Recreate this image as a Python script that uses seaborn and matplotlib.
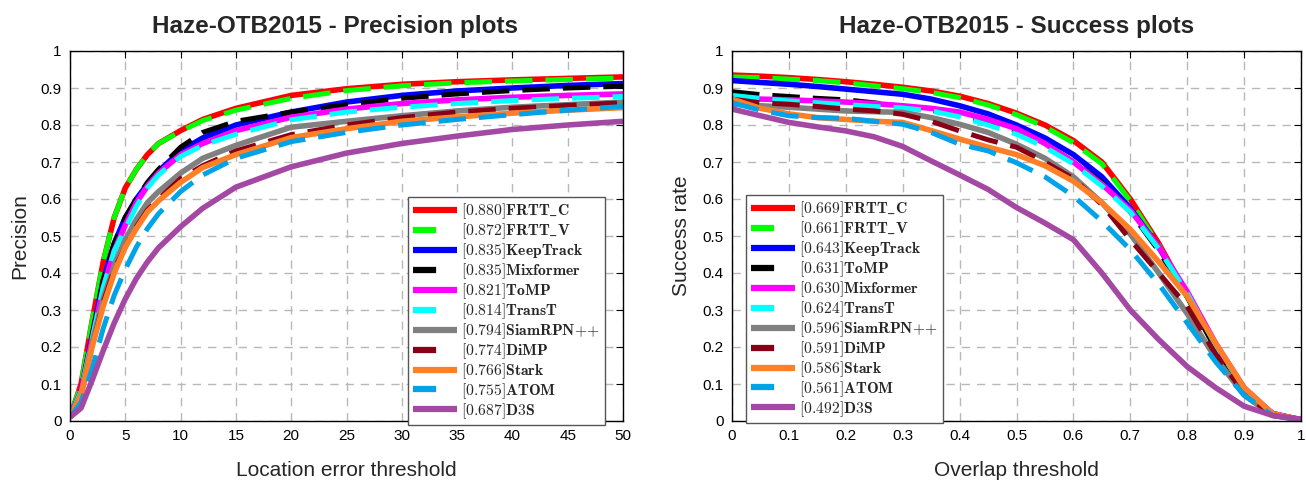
import numpy as np
import pandas as pd
import matplotlib
matplotlib.use('Agg')
import matplotlib.pyplot as plt
from matplotlib.lines import Line2D
import seaborn as sns

# ---- data -------------------------------------------------------------
prec_x = [0, 1, 2, 3, 4, 5, 6, 7, 8, 10, 12, 15, 20, 25, 30, 35, 40, 45, 50]

prec_names = ['FRTT_C', 'FRTT_V', 'KeepTrack', 'Mixformer', 'ToMP', 'TransT',
              'SiamRPN++', 'DiMP', 'Stark', 'ATOM', 'D3S']
prec_scores = [0.880, 0.872, 0.835, 0.835, 0.821, 0.814, 0.794, 0.774, 0.766, 0.755, 0.687]

prec_frtt_c = [0.01, 0.10, 0.27, 0.43, 0.55, 0.63, 0.68, 0.72, 0.75, 0.785, 0.815, 0.845, 0.880, 0.898, 0.910, 0.917, 0.922, 0.926, 0.930]
prec_frtt_v = [0.01, 0.10, 0.27, 0.43, 0.55, 0.63, 0.68, 0.72, 0.75, 0.783, 0.812, 0.840, 0.872, 0.893, 0.906, 0.914, 0.919, 0.923, 0.927]
prec_keeptrack = [0.01, 0.08, 0.23, 0.38, 0.48, 0.55, 0.60, 0.64, 0.675, 0.730, 0.765, 0.800, 0.835, 0.862, 0.880, 0.892, 0.900, 0.907, 0.912]
prec_mixformer = [0.01, 0.08, 0.23, 0.38, 0.48, 0.55, 0.60, 0.645, 0.68, 0.740, 0.780, 0.810, 0.835, 0.855, 0.872, 0.884, 0.893, 0.900, 0.905]
prec_tomp = [0.01, 0.08, 0.22, 0.36, 0.46, 0.53, 0.59, 0.635, 0.67, 0.720, 0.750, 0.785, 0.821, 0.843, 0.858, 0.868, 0.875, 0.880, 0.884]
prec_transt = [0.01, 0.08, 0.22, 0.36, 0.46, 0.52, 0.58, 0.63, 0.665, 0.715, 0.745, 0.775, 0.814, 0.835, 0.848, 0.858, 0.866, 0.872, 0.877]
prec_siamrpn = [0.01, 0.07, 0.21, 0.33, 0.42, 0.49, 0.545, 0.59, 0.62, 0.670, 0.710, 0.745, 0.794, 0.810, 0.825, 0.838, 0.848, 0.855, 0.862]
prec_dimp = [0.01, 0.07, 0.20, 0.32, 0.41, 0.47, 0.525, 0.57, 0.60, 0.655, 0.690, 0.730, 0.774, 0.800, 0.820, 0.835, 0.845, 0.853, 0.860]
prec_stark = [0.01, 0.07, 0.20, 0.31, 0.40, 0.47, 0.52, 0.565, 0.595, 0.645, 0.685, 0.720, 0.766, 0.790, 0.810, 0.822, 0.832, 0.840, 0.847]
prec_atom = [0.01, 0.05, 0.14, 0.25, 0.34, 0.41, 0.47, 0.52, 0.56, 0.620, 0.665, 0.710, 0.755, 0.780, 0.800, 0.815, 0.828, 0.840, 0.850]
prec_d3s = [0.01, 0.035, 0.11, 0.19, 0.265, 0.33, 0.385, 0.43, 0.468, 0.525, 0.575, 0.632, 0.687, 0.724, 0.750, 0.770, 0.788, 0.800, 0.810]

succ_x = [0, 0.05, 0.1, 0.15, 0.2, 0.25, 0.3, 0.35, 0.4, 0.45, 0.5, 0.55, 0.6, 0.65, 0.7, 0.75, 0.8, 0.85, 0.9, 0.95, 1.0]

succ_names = ['FRTT_C', 'FRTT_V', 'KeepTrack', 'ToMP', 'Mixformer', 'TransT',
              'SiamRPN++', 'DiMP', 'Stark', 'ATOM', 'D3S']
succ_scores = [0.669, 0.661, 0.643, 0.631, 0.630, 0.624, 0.596, 0.591, 0.586, 0.561, 0.492]

succ_frtt_c = [0.935, 0.932, 0.928, 0.923, 0.917, 0.910, 0.902, 0.892, 0.878, 0.858, 0.832, 0.800, 0.758, 0.700, 0.600, 0.480, 0.340, 0.200, 0.085, 0.020, 0.003]
succ_frtt_v = [0.930, 0.928, 0.924, 0.920, 0.914, 0.906, 0.898, 0.888, 0.874, 0.854, 0.828, 0.795, 0.752, 0.695, 0.595, 0.475, 0.335, 0.195, 0.083, 0.020, 0.003]
succ_keeptrack = [0.920, 0.915, 0.910, 0.904, 0.897, 0.890, 0.883, 0.870, 0.852, 0.830, 0.800, 0.765, 0.720, 0.660, 0.575, 0.470, 0.340, 0.200, 0.085, 0.020, 0.003]
succ_tomp = [0.890, 0.882, 0.877, 0.872, 0.868, 0.860, 0.850, 0.840, 0.826, 0.810, 0.785, 0.750, 0.700, 0.645, 0.565, 0.460, 0.335, 0.195, 0.082, 0.020, 0.003]
succ_mixformer = [0.870, 0.870, 0.868, 0.865, 0.862, 0.858, 0.852, 0.845, 0.835, 0.815, 0.790, 0.750, 0.700, 0.640, 0.570, 0.470, 0.350, 0.210, 0.090, 0.020, 0.003]
succ_transt = [0.880, 0.872, 0.865, 0.860, 0.855, 0.850, 0.846, 0.838, 0.822, 0.800, 0.775, 0.740, 0.695, 0.635, 0.565, 0.465, 0.345, 0.205, 0.088, 0.020, 0.003]
succ_siamrpn = [0.856, 0.852, 0.848, 0.843, 0.838, 0.836, 0.834, 0.820, 0.802, 0.780, 0.748, 0.710, 0.660, 0.590, 0.505, 0.400, 0.290, 0.170, 0.070, 0.015, 0.003]
succ_dimp = [0.870, 0.860, 0.856, 0.850, 0.843, 0.838, 0.829, 0.810, 0.784, 0.760, 0.740, 0.700, 0.655, 0.585, 0.490, 0.400, 0.310, 0.180, 0.075, 0.015, 0.003]
succ_stark = [0.870, 0.845, 0.830, 0.820, 0.815, 0.810, 0.807, 0.785, 0.762, 0.740, 0.720, 0.690, 0.648, 0.590, 0.518, 0.430, 0.337, 0.210, 0.090, 0.020, 0.003]
succ_atom = [0.860, 0.840, 0.825, 0.820, 0.818, 0.810, 0.802, 0.780, 0.748, 0.730, 0.698, 0.660, 0.608, 0.540, 0.463, 0.370, 0.265, 0.160, 0.070, 0.015, 0.003]
succ_d3s = [0.843, 0.825, 0.807, 0.795, 0.784, 0.768, 0.742, 0.703, 0.665, 0.626, 0.577, 0.535, 0.490, 0.400, 0.300, 0.220, 0.147, 0.090, 0.040, 0.015, 0.005]

prec_curves = [prec_frtt_c, prec_frtt_v, prec_keeptrack, prec_mixformer, prec_tomp, prec_transt,
               prec_siamrpn, prec_dimp, prec_stark, prec_atom, prec_d3s]
succ_curves = [succ_frtt_c, succ_frtt_v, succ_keeptrack, succ_tomp, succ_mixformer, succ_transt,
               succ_siamrpn, succ_dimp, succ_stark, succ_atom, succ_d3s]

# styles follow rank, not tracker
rank_colors = ['#FF0000', '#00FF00', '#0000FF', '#000000', '#FF00FF', '#00FFFF',
               '#808080', '#880015', '#FF7F27', '#00A2E8', '#A349A4']
rank_dashed = [False, True, False, True, False, True, False, True, False, True, False]

# ---- style ------------------------------------------------------------
sns.set_style('white')
plt.rcParams['font.family'] = ['Liberation Sans', 'DejaVu Sans']
plt.rcParams['mathtext.fontset'] = 'cm'


def legend_label(score, name):
    name = name.replace('_', r'\_').replace('+', '{+}')
    return r'$[%.3f]\mathbf{%s}$' % (score, name)


def draw_panel(ax, xs, curves, names, scores, xlim, xticks, title, title_x,
               xlabel, ylabel, leg_xy):
    for i, ys in enumerate(curves):
        df = pd.DataFrame({'x': xs, 'y': ys})
        sns.lineplot(data=df, x='x', y='y', ax=ax, color=rank_colors[i],
                     linewidth=3.6 if rank_dashed[i] else 4.0, sort=False)
        line = ax.get_lines()[-1]
        if rank_dashed[i]:
            line.set_dashes([5.5, 2.6])
        line.set_solid_capstyle('butt')
        line.set_dash_capstyle('butt')

    yt = np.round(np.arange(0, 1.01, 0.1), 1)
    ax.set_xlim(*xlim)
    ax.set_ylim(0, 1)
    ax.set_xticks(xticks)
    ax.set_yticks(yt)
    ax.set_xticklabels(['%g' % t for t in xticks])
    ax.set_yticklabels(['%g' % t for t in yt])
    ax.tick_params(direction='in', length=5, width=0.8, top=True, right=True,
                   labelsize=11, pad=6, colors='black')
    ax.grid(True, color='#b8b8b8', linestyle=(0, (6, 5)), linewidth=1.0)
    for sp in ax.spines.values():
        sp.set_color('black')
        sp.set_linewidth(1.0)
    ax.set_title(title, fontsize=17.5, fontweight='bold', pad=13, x=title_x)
    ax.set_xlabel(xlabel, fontsize=15, labelpad=13)
    ax.set_ylabel(ylabel, fontsize=15, labelpad=8)

    handles = []
    for i in range(len(names)):
        if rank_dashed[i]:
            h = Line2D([], [], color=rank_colors[i], linewidth=4.5, dashes=[3.7, 20],
                       dash_capstyle='butt')
        else:
            h = Line2D([], [], color=rank_colors[i], linewidth=4.5, solid_capstyle='butt')
        handles.append(h)
    labels = [legend_label(s, n) for s, n in zip(scores, names)]
    leg = ax.legend(handles, labels, loc='upper left',
                    bbox_to_anchor=(leg_xy[0] / 1306, 1 - leg_xy[1] / 482),
                    bbox_transform=fig.transFigure, borderaxespad=0,
                    fontsize=11.3, handlelength=2.85, handletextpad=0.25, labelspacing=0.02,
                    borderpad=0.3, fancybox=False, framealpha=1.0, edgecolor='#555555')
    leg.get_frame().set_linewidth(1.0)
    return leg


fig = plt.figure(figsize=(13.06, 4.82), dpi=100)
ax1 = fig.add_axes([70 / 1306, 61 / 482, 553 / 1306, 370 / 482])
ax2 = fig.add_axes([732 / 1306, 61 / 482, 569 / 1306, 370 / 482])

draw_panel(ax1, prec_x, prec_curves, prec_names, prec_scores, (0, 50),
           list(range(0, 51, 5)), 'Haze-OTB2015 - Precision plots', 0.48,
           'Location error threshold', 'Precision', (408, 197))

draw_panel(ax2, succ_x, succ_curves, succ_names, succ_scores, (0, 1),
           list(np.round(np.arange(0, 1.01, 0.1), 1)), 'Haze-OTB2015 - Success plots', 0.5,
           'Overlap threshold', 'Success rate', (746, 195))

fig.savefig('out.png', dpi=100)
